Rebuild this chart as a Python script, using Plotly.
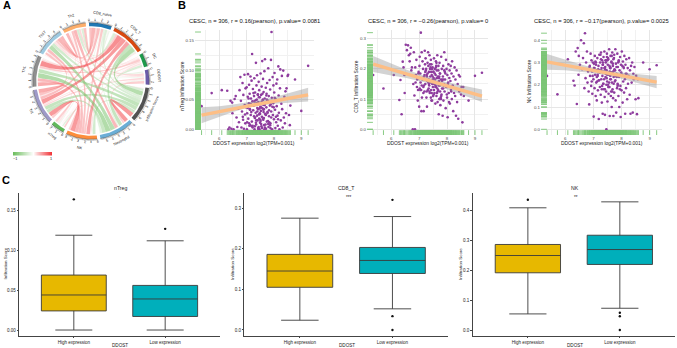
import math
import plotly.graph_objects as go

W, H = 677, 348
FONT = "Liberation Sans"

# ---------- Panel A data ----------
sector_names = ["CD8_naive", "CD8_T", "DC", "DDOST", "Infiltration Score", "Neutrophil",
                "NK", "nTreg", "Tr1", "Th1", "Th17", "Th2"]
sector_colors = ["#1F78B4", "#D9480F", "#1E9A4B", "#6A5BA8", "#525252", "#6BAED6",
                 "#FD8D3C", "#62B85C", "#9E9AC8", "#8F8F8F", "#9ECAE1", "#FDAE6B"]
corr_upper = [
    [-.22, .13, -.14, -.42, -.30, .45, -.18, .55, .30, .62, .50],
    [.20, -.26, -.90, -.70, .75, .12, .85, .95, .40, -.42],
    [.10, -.45, -.10, .25, .10, .25, .42, .20, .10],
    [.20, .40, -.17, .16, .32, -.18, .25, .32],
    [.85, -.55, .10, -.70, -.75, -.55, -.45],
    [-.15, -.35, -.65, -.95, -.85, .60],
    [.40, .85, .60, .55, .50],
    [.40, .15, .20, .15],
    [.70, .50, .20],
    [.15, .10],
    [.60],
]
legend_values = [-1, -.75, -.5, -.25, 0, .25, .5, .75, 1]

# ---------- Panel B data ----------
ddost = [
    5.35, 5.72, 6.09, 6.29, 6.33, 6.37, 6.41, 6.44, 6.47, 6.48,
    6.52, 6.56, 6.60, 6.63, 6.66, 6.68, 6.70, 6.72, 6.74, 6.77,
    6.79, 6.81, 6.83, 6.85, 6.86, 6.88, 6.90, 6.92, 6.93, 6.95,
    6.96, 6.98, 7.00, 7.01, 7.02, 7.04, 7.05, 7.06, 7.08, 7.09,
    7.10, 7.11, 7.12, 7.14, 7.15, 7.16, 7.18, 7.19, 7.20, 7.21,
    7.22, 7.23, 7.24, 7.26, 7.27, 7.28, 7.29, 7.30, 7.31, 7.32,
    7.33, 7.34, 7.35, 7.36, 7.37, 7.38, 7.39, 7.40, 7.41, 7.42,
    7.43, 7.44, 7.45, 7.46, 7.47, 7.48, 7.49, 7.50, 7.51, 7.52,
    7.53, 7.54, 7.55, 7.56, 7.57, 7.58, 7.59, 7.60, 7.61, 7.62,
    7.63, 7.64, 7.65, 7.66, 7.67, 7.68, 7.69, 7.70, 7.71, 7.72,
    7.73, 7.74, 7.75, 7.76, 7.78, 7.79, 7.80, 7.81, 7.82, 7.84,
    7.85, 7.86, 7.87, 7.89, 7.90, 7.91, 7.92, 7.93, 7.95, 7.96,
    7.97, 7.98, 8.00, 8.01, 8.02, 8.04, 8.05, 8.06, 8.08, 8.09,
    8.10, 8.12, 8.13, 8.14, 8.16, 8.17, 8.18, 8.20, 8.22, 8.23,
    8.25, 8.27, 8.29, 8.30, 8.32, 8.34, 8.36, 8.38, 8.40, 8.42,
    8.44, 8.46, 8.50, 8.52, 8.55, 8.58, 8.60, 8.77, 9.00, 9.25,
    6.87, 6.97, 7.07, 7.13, 7.17, 7.25, 7.31, 7.37, 7.43, 7.47,
    7.28, 7.34, 7.41, 7.49, 7.52, 7.56, 7.59, 7.63, 7.66, 7.69,
    7.38, 7.45, 7.51, 7.55, 7.61, 7.65, 7.72, 7.77, 7.83, 7.88,
    7.04, 7.19, 7.33, 7.46, 7.58, 7.71, 7.79, 7.94, 8.03, 8.15,
    7.02, 7.12, 7.22, 7.27, 7.35, 7.39, 7.44, 7.48, 7.53, 7.57,
    7.60, 7.64, 7.67, 7.70, 7.74, 7.78, 7.82, 7.86, 7.90, 7.99,
    6.94, 7.09, 7.15, 7.30, 7.42, 7.50, 7.62, 7.75, 7.87, 8.07,
]
ntreg_score = [
    .039, .061, .066, .065, .000, .003, .048, .001, .045, .027,
    .000, .051, .056, .020, .004, .035, .035, .012, .066, .088,
    .048, .003, .030, .078, .021, .058, .001, .092, .041, .010,
    .069, .037, .071, .000, .027, .055, .093, .018, .044, .075,
    .006, .060, .034, .089, .024, .052, .082, .013, .127, .047,
    .003, .068, .032, .040, .056, .086, .000, .019, .062, .043,
    .028, .112, .008, .074, .050, .091, .036, .015, .059, .002,
    .046, .080, .025, .066, .000, .054, .011, .038, .094, .031,
    .058, .005, .072, .021, .115, .042, .049, .085, .016, .063,
    .034, .007, .098, .052, .118, .026, .045, .070, .001, .037,
    .060, .013, .078, .029, .048, .103, .004, .056, .022, .083,
    .040, .067, .010, .117, .030, .164, .053, .000, .088, .024,
    .044, .074, .017, .062, .095, .033, .002, .051, .012, .077,
    .039, .084, .023, .006, .106, .057, .028, .000, .069, .101,
    .015, .043, .090, .034, .003, .099, .020, .055, .010, .064,
    .027, .069, .090, .092, .024, .007, .040, .084, .031, .107,
    .016, .039, .052, .007, .029, .061, .020, .044, .000, .035,
    .047, .011, .058, .026, .037, .002, .050, .019, .041, .008,
    .023, .054, .014, .046, .033, .000, .057, .028, .012, .042,
    .036, .005, .049, .018, .060, .025, .009, .038, .053, .017,
    .012, .033, .006, .022, .015, .030, .004, .027, .009, .036,
    .018, .041, .003, .024, .050, .014, .032, .007, .020, .037,
    .025, .010, .043, .005, .034, .016, .029, .047, .002, .021,
]
cd8_score = [
    .180, .135, .180, .097, .163, .050, .224, .205, .180, .120,
    .280, .262, .278, .245, .225, .250, .270, .195, .205, .000,
    .150, .255, .112, .000, .205, .180, .230, .140, .165, .095,
    .130, .190, .075, .210, .240, .185, .155, .320, .060, .255,
    .105, .170, .225, .200, .140, .060, .175, .125, .260, .215,
    .150, .235, .195, .105, .180, .075, .160, .220, .130, .255,
    .210, .165, .190, .145, .245, .120, .200, .175, .155, .230,
    .130, .215, .180, .095, .160, .205, .140, .110, .190, .170,
    .235, .150, .120, .200, .165, .085, .180, .225, .140, .110,
    .195, .155, .245, .090, .175, .130, .210, .050, .160, .100,
    .220, .145, .185, .080, .165, .240, .115, .200, .135, .045,
    .175, .210, .095, .150, .255, .125, .190, .165, .070, .230,
    .140, .200, .105, .180, .040, .155, .215, .120, .170, .195,
    .085, .160, .210, .130, .185, .100, .225, .145, .060, .175,
    .120, .205, .110, .165, .045, .195, .090, .150, .035, .180,
    .125, .175, .115, .140, .023, .140, .110, .095, .177, .187,
    .155, .185, .130, .170, .145, .200, .160, .125, .190, .150,
    .175, .135, .205, .165, .115, .185, .145, .170, .125, .195,
    .160, .120, .190, .150, .210, .135, .175, .105, .165, .145,
    .130, .180, .155, .200, .140, .170, .110, .185, .150, .125,
    .135, .165, .190, .125, .150, .215, .095, .175, .130, .155,
    .205, .120, .170, .145, .185, .100, .160, .135, .195, .115,
    .170, .145, .120, .185, .105, .155, .220, .125, .165, .090,
]
nk_score = [
    .240, .157, .315, .218, .197, .350, .114, .365, .245, .330,
    .290, .400, .270, .320, .387, .185, .432, .230, .300, .350,
    .210, .260, .170, .112, .280, .240, .340, .195, .310, .260,
    .160, .300, .225, .057, .275, .185, .330, .245, .150, .300,
    .210, .265, .130, .320, .240, .175, .285, .046, .220, .335,
    .255, .190, .300, .155, .345, .225, .275, .120, .310, .240,
    .070, .290, .205, .325, .180, .260, .350, .145, .065, .280,
    .235, .300, .170, .000, .265, .340, .215, .125, .290, .200,
    .315, .160, .245, .360, .190, .060, .275, .225, .330, .150,
    .255, .300, .100, .210, .345, .180, .285, .140, .060, .235,
    .320, .165, .270, .215, .360, .130, .295, .075, .250, .185,
    .340, .205, .280, .150, .310, .235, .100, .265, .325, .195,
    .055, .290, .175, .350, .245, .120, .305, .215, .275, .165,
    .330, .225, .070, .290, .185, .315, .250, .135, .275, .205,
    .240, .320, .155, .265, .070, .285, .210, .300, .075, .250,
    .225, .280, .135, .240, .068, .225, .140, .300, .270, .288,
    .285, .240, .305, .215, .270, .335, .195, .255, .310, .230,
    .265, .300, .180, .245, .320, .210, .280, .170, .255, .295,
    .225, .310, .250, .190, .275, .330, .205, .265, .235, .300,
    .275, .220, .290, .200, .260, .315, .240, .180, .285, .250,
    .295, .235, .265, .315, .205, .275, .250, .325, .190, .285,
    .240, .305, .170, .260, .335, .220, .280, .195, .305, .255,
    .215, .290, .245, .180, .270, .310, .225, .265, .200, .280,
]
fit_x = [5.35, 6, 6.5, 7, 7.5, 8, 8.5, 9.25]
ntreg_fit = [.024, .030, .034, .039, .043, .048, .052, .058]
ntreg_hi = [.037, .039, .042, .045, .049, .054, .060, .070]
ntreg_lo = [.010, .021, .029, .036, .040, .043, .045, .047]
cd8_fit = [.216, .198, .185, .172, .158, .144, .130, .110]
cd8_hi = [.243, .217, .199, .183, .168, .156, .147, .132]
cd8_lo = [.190, .178, .171, .160, .149, .133, .115, .090]
nk_fit = [.303, .288, .276, .265, .253, .241, .230, .212]
nk_hi = [.338, .311, .293, .277, .264, .255, .248, .240]
nk_lo = [.268, .265, .259, .253, .242, .227, .212, .185]

# ---------- Panel C data ----------
groups = ["High expression", "Low expression"]
ntreg_box = [[0, .024, .044, .069, .119], [0, .017, .039, .056, .112]]
ntreg_out = [[.164], [.127]]
cd8_box = [[.024, .105, .145, .186, .275], [.052, .139, .171, .203, .279]]
cd8_out = [[], [.32, .034, 0]]
nk_box = [[.054, .192, .25, .287, .41], [.073, .22, .27, .318, .43]]
nk_out = [[.437], [.058, .046, 0]]

fig = go.Figure()
layout_axes = {}
annotations = []


def px(x):
    return x / W


def py(y):
    return 1 - y / H


def text(x, y, s, size, color="#222222", angle=0, bold=False, xanchor="center"):
    annotations.append(dict(xref="paper", yref="paper", x=px(x), y=py(y), text=f"<b>{s}</b>" if bold else s,
                            showarrow=False, textangle=angle, xanchor=xanchor, yanchor="middle",
                            font=dict(size=size, color=color, family=FONT), borderpad=0, borderwidth=0))


def add_axes(n, x0, x1, y0, y1, xr, yr, **kw):
    s = "" if n == 1 else str(n)
    xa = dict(domain=[px(x0), px(x1)], range=xr, anchor=f"y{s}", fixedrange=True, zeroline=False)
    ya = dict(domain=[py(y1), py(y0)], range=yr, anchor=f"x{s}", fixedrange=True, zeroline=False)
    xa.update(kw.get("x", {}))
    ya.update(kw.get("y", {}))
    layout_axes[f"xaxis{s}"] = xa
    layout_axes[f"yaxis{s}"] = ya
    return f"x{s}", f"y{s}"


# ---------- Panel A: chord diagram ----------
CX, CY, RPX = 91, 81, 58.3
xa, ya = add_axes(1, 16, 166, 6, 156, [-75 / RPX, 75 / RPX], [-75 / RPX, 75 / RPX],
                  x=dict(visible=False), y=dict(visible=False))
n = len(sector_names)
corr = [[0.0] * n for _ in range(n)]
for i, row in enumerate(corr_upper):
    for k, v in enumerate(row):
        corr[i][i + 1 + k] = v
        corr[i + 1 + k][i] = v
totals = [sum(abs(v) for v in r) for r in corr]
gap = 3.2
deg_per = (360 - gap * n) / sum(totals)
start = -2.0
sector_start = []
a = start
for t in totals:
    sector_start.append(a)
    a += t * deg_per + gap


def pol(deg, r):
    t = math.radians(deg)
    return r * math.sin(t), r * math.cos(t)


R_IN = 53.2 / RPX
R_BI = 54.8 / RPX
anchor = {}
for i in range(n):
    pos = sector_start[i]
    for d in range(n - 1, 0, -1):
        j = (i + d) % n
        w = abs(corr[i][j]) * deg_per
        anchor[(i, j)] = (pos, pos + w)
        pos += w


def mix(v):
    lo, mid, hi = (110, 190, 95), (255, 255, 255), (240, 45, 50)
    end = hi if v > 0 else lo
    f = abs(v)
    return tuple(int(mid[c] + (end[c] - mid[c]) * f) for c in range(3))


pairs = sorted(((i, j) for i in range(n) for j in range(i + 1, n)), key=lambda p: abs(corr[p[0]][p[1]]))
for i, j in pairs:
    a1, a2 = anchor[(i, j)]
    b1, b2 = anchor[(j, i)]
    xs, ys = [], []
    for k in range(9):
        p = pol(a1 + (a2 - a1) * k / 8, R_IN)
        xs.append(p[0]); ys.append(p[1])
    p0, p1 = pol(a2, R_IN), pol(b1, R_IN)
    for k in range(1, 21):
        t = k / 20
        xs.append((1 - t) ** 2 * p0[0] + (t ** 2) * p1[0])
        ys.append((1 - t) ** 2 * p0[1] + (t ** 2) * p1[1])
    for k in range(1, 9):
        p = pol(b1 + (b2 - b1) * k / 8, R_IN)
        xs.append(p[0]); ys.append(p[1])
    p0, p1 = pol(b2, R_IN), pol(a1, R_IN)
    for k in range(1, 21):
        t = k / 20
        xs.append((1 - t) ** 2 * p0[0] + (t ** 2) * p1[0])
        ys.append((1 - t) ** 2 * p0[1] + (t ** 2) * p1[1])
    r_, g_, b_ = mix(corr[i][j])
    fig.add_trace(go.Scatter(x=xs, y=ys, xaxis=xa, yaxis=ya, mode="lines", fill="toself",
                             line=dict(width=0), fillcolor=f"rgba({r_},{g_},{b_},0.56)", hoverinfo="skip"))

tick_x, tick_y = [], []
for i in range(n):
    a0 = sector_start[i]
    a1 = a0 + totals[i] * deg_per
    steps = 24
    outer = [pol(a0 + (a1 - a0) * k / steps, 1.0) for k in range(steps + 1)]
    inner = [pol(a1 - (a1 - a0) * k / steps, R_BI) for k in range(steps + 1)]
    pts = outer + inner
    fig.add_trace(go.Scatter(x=[p[0] for p in pts], y=[p[1] for p in pts], xaxis=xa, yaxis=ya, mode="lines",
                             fill="toself", line=dict(width=0), fillcolor=sector_colors[i], hoverinfo="skip"))
    tick_x += [p[0] for p in outer] + [None]
    tick_y += [p[1] for p in outer] + [None]
    v = 0.0
    while v <= totals[i] + 1e-6:
        ang = a0 + v * deg_per
        major = abs(v - round(v)) < 1e-6
        p0, p1 = pol(ang, 1.0), pol(ang, 1.045 if major else 1.025)
        tick_x += [p0[0], p1[0], None]
        tick_y += [p0[1], p1[1], None]
        if major:
            lx, ly = pol(ang, 61.5 / RPX)
            ta = ang % 360
            rot = ta if ta < 90 or ta > 270 else ta - 180
            rot = rot - 360 if rot > 180 else rot
            text(CX + lx * RPX, CY - ly * RPX, str(int(round(v))), 3.4, angle=rot)
        v = round(v + 0.2, 6)
    mid = (a0 + a1) / 2
    lx, ly = pol(mid, 67.5 / RPX)
    ta = mid % 360
    rot = ta if ta < 90 or ta > 270 else ta - 180
    rot = rot - 360 if rot > 180 else rot
    text(CX + lx * RPX, CY - ly * RPX, sector_names[i], 3.8, angle=rot)
fig.add_trace(go.Scatter(x=tick_x, y=tick_y, xaxis=xa, yaxis=ya, mode="lines", line=dict(color="#333333", width=0.35),
                         hoverinfo="skip"))

# correlation colour key
xa, ya = add_axes(2, 13, 52, 152, 155.5, [-1, 1], [-.5, .5], x=dict(visible=False), y=dict(visible=False))
fig.add_trace(go.Heatmap(x=legend_values, y=[0], z=[legend_values], zmin=-1, zmax=1, zsmooth="best", showscale=False,
                         colorscale=[[0, "#6EBE5F"], [.5, "#FFFFFF"], [1, "#F02D32"]], xaxis=xa, yaxis=ya, hoverinfo="skip"))
text(15, 159, "−1", 3.8)
text(50.7, 159, "1", 3.8)

# ---------- Panel B ----------
scatter_panels = [
    dict(y=ntreg_score, fit=ntreg_fit, hi=ntreg_hi, lo=ntreg_lo, dom=(195, 314), xr=[5.11, 9.465], yr=[-.0096, .1674],
         yticks=[0, .05, .1, .15], yfmt=".2f", ydt=.025, k=(27.33, 593.3), name="nTreg Infiltration Score",
         title="CESC, n = 306, r = 0.16(pearson), p.value= 0.0081", tx=254.7, ylab=182.7, xlab=254, ylc=86),
    dict(y=cd8_score, fit=cd8_fit, hi=cd8_hi, lo=cd8_lo, dom=(367, 487.7), xr=[5.13, 9.456], yr=[-.0189, .3288],
         yticks=[0, .1, .2, .3], yfmt=".1f", ydt=.05, k=(27.9, 302), name="CD8_T Infiltration Score",
         title="CESC, n = 306, r = −0.26(pearson), p.value= 0", tx=427.7, ylab=355.7, xlab=428, ylc=87),
    dict(y=nk_score, fit=nk_fit, hi=nk_hi, lo=nk_lo, dom=(541, 662), xr=[5.135, 9.44], yr=[-.0256, .4463],
         yticks=[0, .1, .2, .3, .4], yfmt=".1f", ydt=.05, k=(28.1, 222.5), name="NK Infiltration Score",
         title="CESC, n = 306, r = −0.17(pearson), p.value= 0.0025", tx=601.8, ylab=530.3, xlab=602, ylc=81),
]
for idx, p in enumerate(scatter_panels):
    num = 3 + idx
    xa, ya = add_axes(num, p["dom"][0], p["dom"][1], 30, 135, p["xr"], p["yr"],
                      x=dict(tickvals=[6, 7, 8, 9], ticktext=["6", "7", "8", "9"], showgrid=True, gridcolor="#E6E6E6",
                             gridwidth=.7, minor=dict(dtick=.5, showgrid=True, gridcolor="#F1F1F1", gridwidth=.4),
                             ticks="", tickfont=dict(size=4.4, color="#4D4D4D", family=FONT), ticklabelstandoff=0,
                             showline=False),
                      y=dict(tickvals=p["yticks"], tickformat=p["yfmt"], showgrid=True, gridcolor="#E6E6E6", gridwidth=.7,
                             minor=dict(dtick=p["ydt"], showgrid=True, gridcolor="#F1F1F1", gridwidth=.4), ticks="",
                             tickfont=dict(size=4.4, color="#4D4D4D", family=FONT), showline=False))
    fig.add_trace(go.Scatter(x=ddost, y=p["y"], xaxis=xa, yaxis=ya, mode="markers", hoverinfo="skip",
                             marker=dict(color="#8E3C9E", size=2.6, line=dict(width=0))))
    fig.add_trace(go.Scatter(x=fit_x + fit_x[::-1], y=p["hi"] + p["lo"][::-1], xaxis=xa, yaxis=ya, mode="lines",
                             fill="toself", fillcolor="rgba(150,150,150,0.42)", line=dict(width=0), hoverinfo="skip"))
    fig.add_trace(go.Scatter(x=fit_x, y=p["fit"], xaxis=xa, yaxis=ya, mode="lines",
                             line=dict(color="#FDBE85", width=3.4), hoverinfo="skip"))
    rug_y = p["yr"][0] + 2.3 / p["k"][1]
    rug_x = p["xr"][0] + 3 / p["k"][0]
    fig.add_trace(go.Scatter(x=ddost, y=[rug_y] * len(ddost), xaxis=xa, yaxis=ya, mode="markers", hoverinfo="skip",
                             marker=dict(symbol="line-ns", size=3.6, line=dict(color="#7CC576", width=.9))))
    fig.add_trace(go.Scatter(x=[rug_x] * len(ddost), y=p["y"], xaxis=xa, yaxis=ya, mode="markers", hoverinfo="skip",
                             marker=dict(symbol="line-ew", size=4.2, line=dict(color="#7CC576", width=.9))))
    text(p["tx"], 21.3, p["title"], 5.8, color="#111111")
    text(p["xlab"], 143, "DDOST expression log2(TPM+0.001)", 4.9, color="#222222")
    text(p["ylab"], p["ylc"], p["name"], 4.9, angle=-90)

# ---------- Panel C ----------
box_panels = [
    dict(box=ntreg_box, out=ntreg_out, dom=(19, 220), yr=[-.0075, .172], ticks=[0, .05, .1, .15], fmt=".2f",
         title="nTreg", cx=120, sig="·", sx=120, ylab=4.5),
    dict(box=cd8_box, out=cd8_out, dom=(244.3, 448), yr=[-.0148, .3369], ticks=[0, .1, .2, .3], fmt=".1f",
         title="CD8_T", cx=346.5, sig="***", sx=349, ylab=232),
    dict(box=nk_box, out=nk_out, dom=(472.7, 675), yr=[-.0201, .4597], ticks=[0, .1, .2, .3, .4], fmt=".1f",
         title="NK", cx=575, sig="**", sx=575.7, ylab=460),
]
box_fill = ["#E7B800", "#00AFBB"]
for idx, p in enumerate(box_panels):
    num = 6 + idx
    xa, ya = add_axes(num, p["dom"][0], p["dom"][1], 193, 336, [-.6, 1.6], p["yr"],
                      x=dict(type="category", categoryorder="array", categoryarray=groups, showline=True, linecolor="#444444",
                             linewidth=.9, ticks="outside", ticklen=1.5, tickwidth=.5, tickcolor="#444444",
                             tickfont=dict(size=4.5, color="#222222", family=FONT), showgrid=False),
                      y=dict(tickvals=p["ticks"], tickformat=p["fmt"], showline=True, linecolor="#444444", linewidth=.9,
                             ticks="outside", ticklen=1.5, tickwidth=.5, tickcolor="#444444",
                             tickfont=dict(size=4.5, color="#222222", family=FONT), showgrid=False))
    for g in range(2):
        b = p["box"][g]
        fig.add_trace(go.Box(x=[groups[g]], lowerfence=[b[0]], q1=[b[1]], median=[b[2]], q3=[b[3]], upperfence=[b[4]],
                             width=.71, whiskerwidth=.57, fillcolor=box_fill[g], boxpoints=False,
                             line=dict(color="#3A3A3A", width=.9), xaxis=xa, yaxis=ya, hoverinfo="skip"))
        if p["out"][g]:
            fig.add_trace(go.Scatter(x=[groups[g]] * len(p["out"][g]), y=p["out"][g], xaxis=xa, yaxis=ya, mode="markers",
                                     marker=dict(color="#111111", size=2.4), hoverinfo="skip"))
    text(p["cx"], 188, p["title"], 5.2)
    text(p["sx"], 197.3, p["sig"], 4.5)
    text((p["dom"][0] + p["dom"][1]) / 2 + 1, 345.5, "DDOST", 4.6)
    text(p["ylab"], 264, "Infiltration Score", 4.4, angle=-90)

text(3, 5, "A", 11, color="#000000", bold=True, xanchor="left")
text(178, 4.5, "B", 11, color="#000000", bold=True, xanchor="left")
text(1.5, 180, "C", 11, color="#000000", bold=True, xanchor="left")

fig.update_layout(width=W, height=H, margin=dict(l=0, r=0, t=0, b=0), paper_bgcolor="white", plot_bgcolor="white",
                  showlegend=False, annotations=annotations, font=dict(family=FONT), boxmode="overlay", **layout_axes)
fig.write_html("out.html", config=dict(displayModeBar=False),
               post_script="document.body.style.margin='0';document.body.style.overflow='hidden';")
